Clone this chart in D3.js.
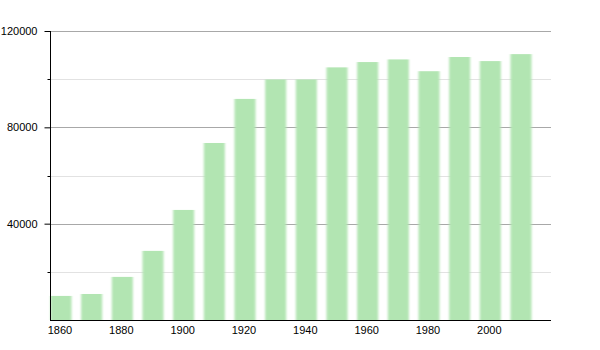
<!DOCTYPE html>
<html>
<head>
<meta charset="utf-8">
<script src="https://cdn.jsdelivr.net/npm/d3@7"></script>
<style>
  body { margin: 0; background: #fff; }
  text { font-family: "Liberation Sans", Arial, sans-serif; font-size: 11px; fill: #000; }
</style>
</head>
<body>
<svg id="chart" width="600" height="350"></svg>
<script>
// population by decade
const years = [1860, 1870, 1880, 1890, 1900, 1910, 1920, 1930, 1940, 1950, 1960, 1970, 1980, 1990, 2000, 2010];
const population = [10000, 10800, 17900, 28700, 45700, 73500, 91800, 99900, 99900, 104900, 107100, 108200, 103300, 109200, 107500, 110400];
const yTicks = [40000, 80000, 120000];
const yMinorTicks = [20000, 60000, 100000];
const xLabels = [1860, 1880, 1900, 1920, 1940, 1960, 1980, 2000];

const svg = d3.select("#chart");
const plot = { left: 50, right: 551, top: 31, bottom: 320 };

const x = d3.scaleLinear().domain([1860, 2010]).range([61, 521]);
const y = d3.scaleLinear().domain([0, 120000]).range([plot.bottom, plot.top]);

// soft edges on the bars
svg.append("defs").append("filter")
    .attr("id", "soft")
    .attr("x", "-20%").attr("width", "140%")
    .append("feGaussianBlur")
    .attr("stdDeviation", "0.9 0.3");

// grid lines
svg.append("g")
    .selectAll("line")
    .data(yMinorTicks)
    .join("line")
    .attr("x1", plot.left).attr("x2", plot.right)
    .attr("y1", (d) => Math.round(y(d)) + 0.5).attr("y2", (d) => Math.round(y(d)) + 0.5)
    .attr("stroke", "#e2e2e2");
svg.append("g")
    .selectAll("line")
    .data(yTicks)
    .join("line")
    .attr("x1", plot.left).attr("x2", plot.right)
    .attr("y1", (d) => Math.round(y(d)) + 0.5).attr("y2", (d) => Math.round(y(d)) + 0.5)
    .attr("stroke", "#a8a8a8");

// bars
const barWidth = 21;
svg.append("g")
    .attr("filter", "url(#soft)")
    .selectAll("rect")
    .data(years)
    .join("rect")
    .attr("x", (d) => x(d) - barWidth / 2)
    .attr("width", barWidth)
    .attr("y", (d, i) => y(population[i]))
    .attr("height", (d, i) => plot.bottom - y(population[i]))
    .attr("fill", "#b2e5b2");

// y axis
const yAxis = d3.axisLeft(y).tickValues(yTicks).tickSize(6).tickPadding(7).tickFormat(d3.format("d"));
const gy = svg.append("g").attr("transform", `translate(${plot.left + 0.5},0)`).call(yAxis);
gy.select(".domain").attr("d", `M0,${plot.top}V${plot.bottom}`).attr("stroke", "#000");
gy.selectAll(".tick text").style("font-size", "11px").attr("fill", "#000");
gy.selectAll(".tick line").attr("stroke", "#000");
gy.selectAll(".minor-tick")
    .data(yMinorTicks)
    .join("line")
    .attr("class", "minor-tick")
    .attr("x1", -3).attr("x2", 0)
    .attr("y1", (d) => Math.round(y(d)) + 0.5).attr("y2", (d) => Math.round(y(d)) + 0.5)
    .attr("stroke", "#000");

// x axis
svg.append("line")
    .attr("x1", plot.left).attr("x2", plot.right)
    .attr("y1", plot.bottom + 0.5).attr("y2", plot.bottom + 0.5)
    .attr("stroke", "#000");
svg.append("g")
    .selectAll("text")
    .data(xLabels)
    .join("text")
    .attr("x", (d) => x(d) - 1)
    .attr("y", plot.bottom + 14)
    .attr("text-anchor", "middle")
    .text((d) => d);
</script>
</body>
</html>
